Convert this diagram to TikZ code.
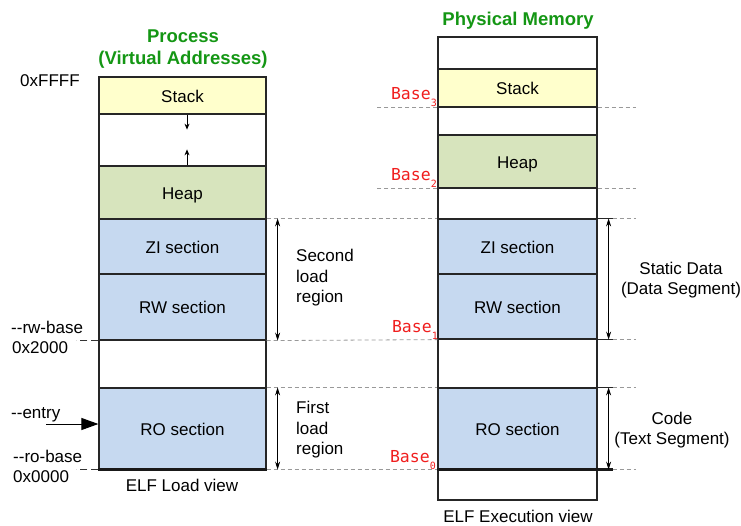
\documentclass[tikz,border=0pt]{standalone}
\usepackage{fontspec}
\setmainfont{Liberation Sans}
\newfontfamily\monofont{DejaVu Sans Mono}
\usetikzlibrary{arrows.meta}
\definecolor{stackfill}{HTML}{FFFFCC}
\definecolor{heapfill}{HTML}{D7E4BD}
\definecolor{secfill}{HTML}{C6D9F0}
\definecolor{titlegreen}{RGB}{20,150,20}
\definecolor{basered}{RGB}{240,30,30}
\begin{document}
\begin{tikzpicture}[x=1pt,y=-1pt,
  mem/.style={draw=black!85, line width=1.2pt, font=\fontsize{17}{20.5}\selectfont,
    text height=13pt, text depth=0pt, inner sep=0pt},
  lcol/.style={mem, minimum width=167pt},
  rcol/.style={mem, minimum width=159pt},
  guide/.style={draw=black!40, dash pattern=on 4pt off 3pt, line width=0.8pt},
  ldash/.style={draw=black!80, dash pattern=on 7pt off 4pt, line width=0.9pt},
  dimarrow/.style={{Stealth[length=8pt,width=5pt]}-{Stealth[length=8pt,width=5pt]}, line width=0.8pt},
  sarrow/.style={-{Stealth[length=6pt,width=5pt]}, line width=0.8pt},
  lbl/.style={font=\fontsize{17}{20.5}\selectfont, inner sep=0pt},
  baselbl/.style={font=\monofont\fontsize{16.5}{16.5}\selectfont, text=basered, inner sep=0pt},
  titlelbl/.style={font=\bfseries\fontsize{18.5}{22}\selectfont, text=titlegreen, inner sep=0pt}]
\useasboundingbox (0,0) rectangle (741,525);

% left column
\node[lcol, fill=stackfill, minimum height=37pt] (lstack) at (182.5,95.5) {Stack};
\node[lcol, minimum height=52pt] (lgap1) at (182.5,140) {};
\node[lcol, fill=heapfill, minimum height=53pt] (lheap) at (182.5,192.5) {Heap};
\node[lcol, fill=secfill, minimum height=55pt] (lzi) at (182.5,246.5) {ZI section};
\node[lcol, fill=secfill, minimum height=66pt] (lrw) at (182.5,307) {RW section};
\node[lcol, minimum height=48pt] (lgap2) at (182.5,364) {};
\node[lcol, fill=secfill, minimum height=81pt] (lro) at (182.5,428.5) {RO section};

% right column
\node[rcol, minimum height=463pt] (rmem) at (517.5,268.5) {};
\node[rcol, fill=stackfill, minimum height=38pt] (rstack) at (517.5,88) {Stack};
\node[rcol, fill=heapfill, minimum height=53pt] (rheap) at (517.5,161.5) {Heap};
\node[rcol, fill=secfill, minimum height=55pt] (rzi) at (517.5,246.5) {ZI section};
\node[rcol, fill=secfill, minimum height=65pt] (rrw) at (517.5,306.5) {RW section};
\node[rcol, fill=secfill, minimum height=81pt] (rro) at (517.5,428.5) {RO section};

% guide lines between columns
\draw[guide] (lzi.north east) -- (rzi.north west);
\draw[guide] (lrw.south east) -- (rrw.south west);
\draw[guide] (lro.north east) -- (rro.north west);
\draw[guide] (lro.south east) -- (rro.south west);
% guides right of physical memory
\foreach \a in {rzi.north east, rrw.south east, rro.north east}{
  \draw[line width=1.2pt, black!85] (\a) -- ++(15,0) coordinate (tmp);
  \draw[guide] (tmp) -- ++(23,0);
}
\draw[guide] ([xshift=15pt]rro.south east) -- ++(23,0);
\draw[guide] (rstack.south east) -- ++(38,0);
\draw[guide] (rheap.south east) -- ++(38,0);
\draw[guide] (rstack.south west) -- ++(-60,0);
\draw[guide] (rheap.south west) -- ++(-60,0);
% guides left of process
\draw[ldash] (lrw.south west) -- ++(-22,0);
\draw[ldash] (lro.south west) -- ++(-22,0);

% heavy bottom lines
\draw[line width=2.6pt, black!90] (lro.south west) -- (lro.south east);
\draw[line width=2.6pt, black!90] (rro.south west) -- ([xshift=15pt]rro.south east);

% dimension arrows
\draw[dimarrow] ([xshift=11pt]lzi.north east) -- ([xshift=11pt]lrw.south east);
\draw[dimarrow] ([xshift=11pt]lro.north east) -- ([xshift=11pt]lro.south east);
\draw[dimarrow] ([xshift=11pt]rzi.north east) -- ([xshift=11pt]rrw.south east);
\draw[dimarrow] ([xshift=11pt]rro.north east) -- ([xshift=11pt]rro.south east);

% stack / heap growth arrows
\draw[sarrow] ([xshift=4.5pt]lstack.south) -- ++(0,15);
\draw[sarrow] ([xshift=4.5pt]lheap.north) -- ++(0,-16);

% entry arrow
\coordinate (entrytail) at (46,424);
\draw[line width=1pt, -{Triangle[length=17pt,width=12pt]}] (entrytail) -- (entrytail -| lro.west);

% left address labels
\node[lbl, anchor=base west] (ffff) at (20,86) {0xFFFF};
\node[lbl, anchor=base west] (rwbase) at (11,333) {-{}-rw-base};
\node[lbl, anchor=base west] (x2000) at (12,353) {0x2000};
\node[lbl, anchor=base west] (entry) at (11,418) {-{}-entry};
\node[lbl, anchor=base west] (robase) at (13,462) {-{}-ro-base};
\node[lbl, anchor=base west] (x0000) at (13,482) {0x0000};

% base labels
\node[baselbl, anchor=base east] (b3) at (437,99.5) {Base\raisebox{-7pt}{\fontsize{10}{10}\selectfont 3}};
\node[baselbl, anchor=base east] (b2) at (437,180.7) {Base\raisebox{-7pt}{\fontsize{10}{10}\selectfont 2}};
\node[baselbl, anchor=base east] (b1) at (438,332) {Base\raisebox{-7pt}{\fontsize{10}{10}\selectfont 1}};
\node[baselbl, anchor=base east] (b0) at (436,462) {Base\raisebox{-7pt}{\fontsize{10}{10}\selectfont 0}};

% titles
\node[titlelbl, align=center] (ptitle) at (183,49.4) {Process\\(Virtual Addresses)};
\node[titlelbl, anchor=base] (mtitle) at (518,25) {Physical Memory};

% captions
\node[lbl, anchor=base] (lcap) at (182,491) {ELF Load view};
\node[lbl, anchor=base] (rcap) at (518,522) {ELF Execution view};

% region texts
\node[lbl, align=left, anchor=west] (second) at (296,278) {Second\\load\\region};
\node[lbl, align=left, anchor=west] (first) at (296,429.6) {First\\load\\region};
\node[lbl, align=center] (static) at (681,280) {Static Data\\(Data Segment)};
\node[lbl, align=center] (code) at (672,430) {Code\\(Text Segment)};
\end{tikzpicture}
\end{document}
